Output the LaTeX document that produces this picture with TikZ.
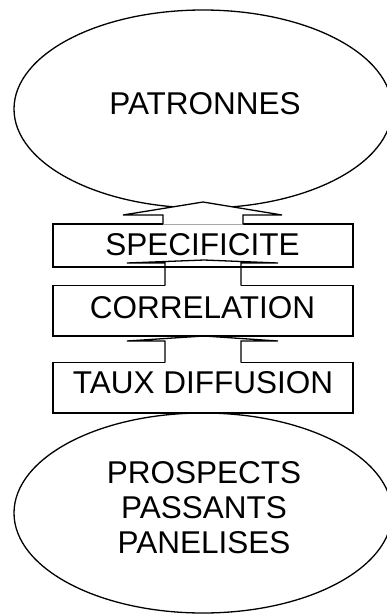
\documentclass[tikz,border=0pt]{standalone}
\usepackage{fontspec}
\setmainfont{Liberation Sans}
\usetikzlibrary{shapes.geometric,calc}
\tikzset{
  lw/.style={line width=1.3pt},
  oval/.style={draw,lw,ellipse,minimum width=378pt,minimum height=198pt,inner sep=0pt,outer sep=0pt},
  boxnode/.style={draw,lw,rectangle,minimum width=300pt,inner sep=0pt,outer sep=0pt},
  lbl/.style={font=\fontsize{31.5}{35}\selectfont,inner sep=0pt,align=center},
  arrowline/.style={lw,line join=miter},
}
\begin{document}
\begin{tikzpicture}[x=1pt,y=-1pt]
\useasboundingbox (0,0) rectangle (387,614);
% shapes
\node[oval] (patr) at (203,109) {};
\node[oval,minimum height=200pt] (prosp) at (203,513) {};
\node[boxnode,minimum height=43pt] (spec) at (203,245.5) {};
\node[boxnode,minimum height=50.3pt] (corr) at (203,310.85) {};
\node[boxnode,minimum height=50.3pt] (taux) at (203,387.85) {};
% texts
\node[lbl] (tpatr) at (205,104) {PATRONNES};
\node[lbl] (tspec) at (202.5,245) {SPECIFICITE};
\node[lbl] (tcorr) at (202.5,307.5) {CORRELATION};
\node[lbl] (ttaux) at (203,382.5) {TAUX DIFFUSION};
\node[lbl] (tprosp) at (204,507.5) {PROSPECTS\\PASSANTS\\PANELISES};
% block arrow spec -> patr
\fill[white] ($(spec.north)+(-40,0.7)$) -- ($(spec.north)+(-40,-9)$) -- ($(spec.north)+(-80,-9)$)
  -- ($(patr.south)+(0,-6)$) -- ($(spec.north)+(79,-9)$) -- ($(spec.north)+(40,-9)$) -- ($(spec.north)+(40,0.7)$) -- cycle;
\draw[arrowline] ($(spec.north)+(-40,0)$) -- ($(spec.north)+(-40,-9)$) -- ($(spec.north)+(-80,-9)$)
  -- ($(patr.south)+(0,-6)$) -- ($(spec.north)+(79,-9)$) -- ($(spec.north)+(40,-9)$) -- ($(spec.north)+(40,0)$);
% block arrow corr -> spec
\fill[white] ($(corr.north)+(-38,-17.4)$) rectangle ($(corr.north)+(38,0.7)$);
\draw[arrowline] ($(corr.north)+(-38,0)$) -- ($(corr.north)+(-38,-22.7)$) -- ($(corr.north)+(-76,-22.7)$)
  -- ($(spec.south)+(1,-7)$) -- ($(corr.north)+(75,-22.7)$) -- ($(corr.north)+(38,-22.7)$) -- ($(corr.north)+(38,0)$);
% block arrow taux -> corr
\fill[white] ($(taux.north)+(-38,-25.4)$) rectangle ($(taux.north)+(38,0.7)$);
\draw[arrowline] ($(taux.north)+(-38,0)$) -- ($(taux.north)+(-38,-21.7)$) -- ($(taux.north)+(-76,-21.7)$)
  -- ($(corr.south)+(1,0)$) -- ($(taux.north)+(75,-21.7)$) -- ($(taux.north)+(38,-21.7)$) -- ($(taux.north)+(38,0)$);
\end{tikzpicture}
\end{document}
